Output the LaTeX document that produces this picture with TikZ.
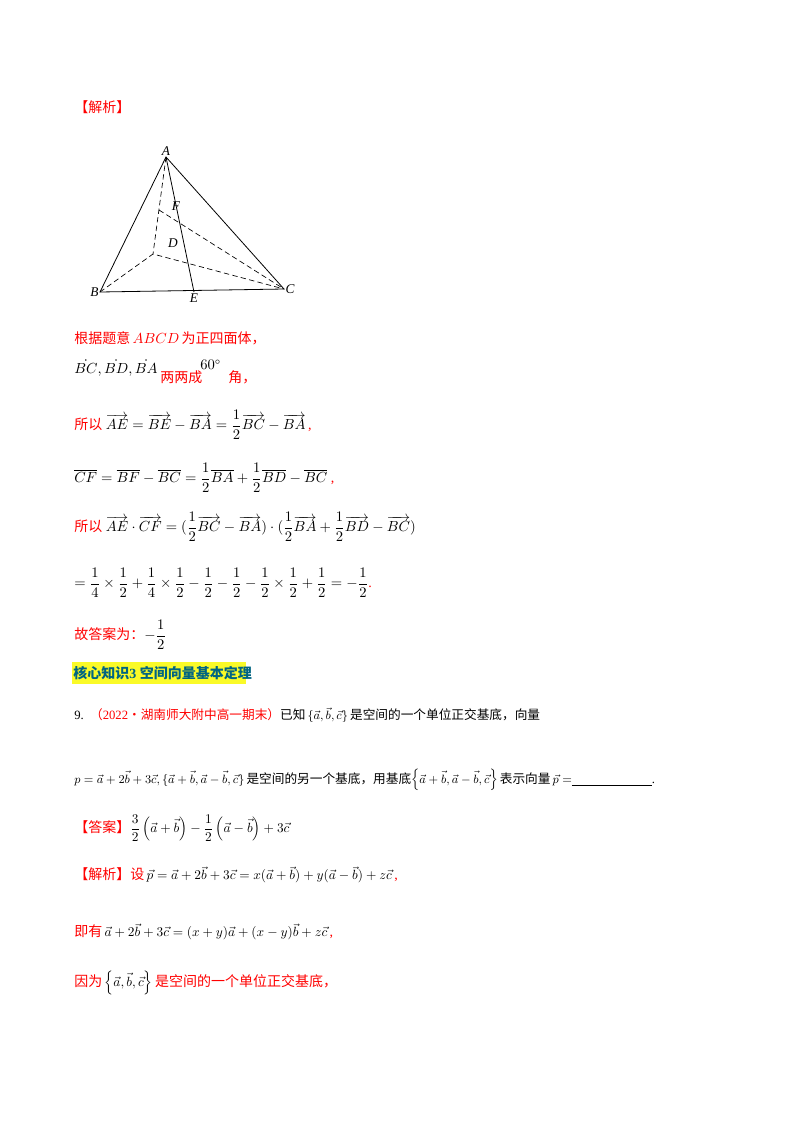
\documentclass[tikz,border=0pt]{standalone}
\usepackage{amsmath}
\usepackage{fontspec}
\setmainfont{Liberation Serif}
\newfontfamily\cjk{Noto Sans CJK SC}
\definecolor{redt}{RGB}{255,0,0}
\definecolor{headc}{RGB}{0,100,130}
\definecolor{hly}{RGB}{250,250,40}
\newcommand{\zh}[1]{{\cjk #1}}
\newcommand{\ov}[1]{\overrightarrow{#1}}
\newcommand{\sm}[1]{{\fontsize{10}{11}\selectfont #1}}
\begin{document}
\begin{tikzpicture}[x=0.75pt,y=-0.75pt,
  txt/.style={anchor=west,inner sep=0pt,font=\fontsize{10.5}{12}\selectfont},
  qtxt/.style={anchor=west,inner sep=0pt,font=\fontsize{9.5}{11}\selectfont},
  red/.style={txt,text=redt},
  lab/.style={inner sep=1pt,font=\fontsize{10}{12}\selectfont\itshape},
  edge/.style={line width=0.6pt},
  hid/.style={line width=0.5pt,dashed,dash pattern=on 4pt off 2.5pt}]
\useasboundingbox (0,0) rectangle (800,1132);
\fill[white] (0,0) rectangle (800,1132);
\node[red] (t0) at (74,107) {\zh{【解析】}};
% figure
\coordinate (A) at (166,157);
\coordinate (B) at (100,292);
\coordinate (C) at (284,289);
\coordinate (D) at (153,254);
\coordinate (E) at (194,292);
\coordinate (F) at (159,210);
\draw[edge] (A)--(B)--(C)--cycle (A)--(E);
\draw[hid] (A)--(D) (B)--(D)--(C) (F)--(C);
\node[lab,above] at (A) {A};
\node[lab,left] at (B) {B};
\node[lab,right] at (C) {C};
\node[lab] at (173,243) {D};
\node[lab] at (176,206) {F};
\node[lab,below] at (E) {E};
% text
\node[red] (l1) at (74,338) {\zh{根据题意}\,$ABCD$\,\zh{为正四面体，}};
\node[txt] (l2) at (74,368) {$\dot{BC},\dot{BD},\dot{BA}$};
\node[red] (l2b) at (160,377) {\zh{两两成}};
\node[txt] (l2c) at (200,365) {$60^\circ$};
\node[red] (l2d) at (228,377) {\zh{角，}};
\node[red] (l3) at (74,425) {\zh{所以}\ \textcolor{black}{$\ov{AE}=\ov{BE}-\ov{BA}=\dfrac12\ov{BC}-\ov{BA}$}\,,};
\node[red] (l4) at (74,478) {\textcolor{black}{$\overline{CF}=\overline{BF}-\overline{BC}=\dfrac12\overline{BA}+\dfrac12\overline{BD}-\overline{BC}$}\ ,};
\node[red] (l5) at (74,527) {\zh{所以}\ \textcolor{black}{$\ov{AE}\cdot\ov{CF}=(\dfrac12\ov{BC}-\ov{BA})\cdot(\dfrac12\ov{BA}+\dfrac12\ov{BD}-\ov{BC})$}};
\node[red] (l6) at (74,583) {\textcolor{black}{$=\dfrac14\times\dfrac12+\dfrac14\times\dfrac12-\dfrac12-\dfrac12-\dfrac12\times\dfrac12+\dfrac12=-\dfrac12$}.};
\node[red] (l7) at (74,635) {\zh{故答案为：}\textcolor{black}{$-\dfrac12$}};
\fill[hly] (72,662) rectangle (246,684);
\node[txt,text=headc,font=\fontsize{10.5}{12}\selectfont\bfseries] (h) at (73,673) {\zh{\bfseries 核心知识}3\ \zh{\bfseries 空间向量基本定理}};
\node[qtxt] (q1) at (74,715) {9.\ \ \textcolor{redt}{\zh{（}2022\zh{·湖南师大附中高一期末）}}\zh{已知}\,$\{\vec a,\vec b,\vec c\}$\,\zh{是空间的一个单位正交基底，向量}};
\node[qtxt] (q2) at (74,780) {$p=\vec a+2\vec b+3\vec c,\{\vec a+\vec b,\vec a-\vec b,\vec c\}$\,\zh{是空间的另一个基底，用基底}$\left\{\vec a+\vec b,\vec a-\vec b,\vec c\right\}$\,\zh{表示向量}\,$\vec p=$\underline{\hspace{60pt}}.};
\node[txt] (a1) at (74,828) {\textcolor{redt}{\zh{【答案】}}\sm{$\dfrac32\left(\vec a+\vec b\right)-\dfrac12\left(\vec a-\vec b\right)+3\vec c$}};
\node[red] (a2) at (74,875) {\zh{【解析】设}\,\textcolor{black}{\sm{$\vec p=\vec a+2\vec b+3\vec c=x(\vec a+\vec b)+y(\vec a-\vec b)+z\vec c$}}\,,};
\node[red] (a3) at (74,932) {\zh{即有}\,\textcolor{black}{\sm{$\vec a+2\vec b+3\vec c=(x+y)\vec a+(x-y)\vec b+z\vec c$}}\,,};
\node[red] (a4) at (74,983) {\zh{因为}\,\textcolor{black}{\sm{$\left\{\vec a,\vec b,\vec c\right\}$}}\,\zh{是空间的一个单位正交基底，}};
\end{tikzpicture}
\end{document}
